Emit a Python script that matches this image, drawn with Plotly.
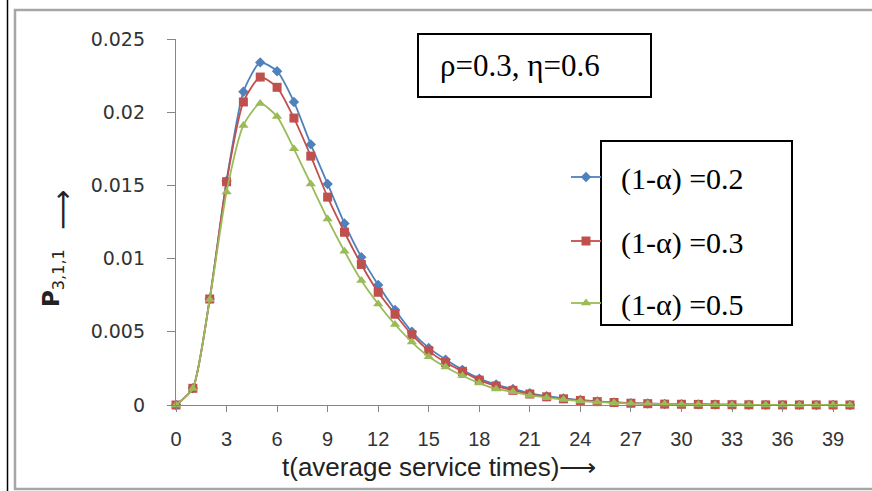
import plotly.graph_objects as go

# ---- data ----
t = list(range(0, 41))
x_ticks = list(range(0, 40, 3))
y_ticks = [0, 0.005, 0.01, 0.015, 0.02, 0.025]
y_tick_text = ["0", "0.005", "0.01", "0.015", "0.02", "0.025"]

p_02 = [0, 0.00114, 0.00724, 0.0153, 0.0214, 0.0234, 0.0228, 0.0207, 0.0178, 0.0151,
        0.0124, 0.0101, 0.0082, 0.0065, 0.0050, 0.0039, 0.0031, 0.0024, 0.0018, 0.0014,
        0.0011, 0.0008, 0.0006, 0.00045, 0.00034, 0.00025, 0.00018, 0.00013, 0.0001, 0.00007,
        0.00005, 0.00004, 0.00003, 0.00002, 0.000015, 0.00001, 0.000008, 0.000006, 0.000004,
        0.000003, 0.000002]
p_03 = [0, 0.00114, 0.00724, 0.01525, 0.0207, 0.0224, 0.0217, 0.0196, 0.0170, 0.0142,
        0.0118, 0.0096, 0.0077, 0.0062, 0.0048, 0.0037, 0.0029, 0.0023, 0.0017, 0.0013,
        0.0010, 0.00075, 0.00056, 0.00042, 0.00031, 0.00023, 0.00017, 0.00012, 0.00009, 0.00006,
        0.00005, 0.00004, 0.00003, 0.00002, 0.000014, 0.00001, 0.000007, 0.000005, 0.000004,
        0.000003, 0.000002]
p_05 = [0, 0.00112, 0.0072, 0.01455, 0.0191, 0.0206, 0.0197, 0.0175, 0.0151, 0.0127,
        0.0105, 0.0085, 0.0069, 0.0055, 0.0043, 0.0033, 0.0026, 0.0020, 0.0015, 0.0011,
        0.0009, 0.00065, 0.0005, 0.00037, 0.00027, 0.0002, 0.00015, 0.0001, 0.00008, 0.00006,
        0.00004, 0.00003, 0.00002, 0.000015, 0.00001, 0.000008, 0.000006, 0.000004, 0.000003,
        0.000002, 0.000001]

series_names = ["(1-α) =0.2", "(1-α) =0.3", "(1-α) =0.5"]
series_vals = [p_02, p_03, p_05]

# ---- style ----
W, H = 872, 491
ML, MR, MT, MB = 176, 17, 39, 86
PW, PH = W - ML - MR, H - MT - MB

def px(x):
    return (x - ML) / PW

def py(y):
    return (H - MB - y) / PH

colors = ["#4F81BD", "#C0504D", "#9BBB59"]
symbols = ["diamond", "square", "triangle-up"]
msizes = [8, 9, 9]
legend_ids = ["legend", "legend2", "legend3"]
legend_y_px = [177, 241, 303]

fig = go.Figure()
for name, vals, c, s, ms, lg in zip(series_names, series_vals, colors, symbols, msizes, legend_ids):
    fig.add_trace(go.Scatter(
        x=t, y=vals, name="\u00a0\u00a0" + name, mode="lines+markers",
        line=dict(color=c, width=1.8, shape="spline", smoothing=0.6),
        marker=dict(symbol=s, size=ms, color=c),
        cliponaxis=False, legend=lg,
    ))

axis_grey = "#868686"
fig.update_xaxes(
    range=[0, 40.3], tickvals=x_ticks, ticktext=[str(v) for v in x_ticks],
    showgrid=False, zeroline=False, showline=True, linecolor=axis_grey, linewidth=1.3,
    ticks="outside", ticklen=6, tickcolor=axis_grey, tickwidth=1.3,
    tickfont=dict(family="Liberation Sans, sans-serif", size=20, color="#333"),
    ticklabelstandoff=10,
)
fig.update_yaxes(
    range=[0, 0.025], tickvals=y_ticks, ticktext=y_tick_text,
    showgrid=False, zeroline=False, showline=True, linecolor=axis_grey, linewidth=1.3,
    ticks="outside", ticklen=8, tickcolor=axis_grey, tickwidth=1.3,
    tickfont=dict(family="DejaVu Sans, sans-serif", size=19, color="#333"),
    ticklabelstandoff=18,
)

serif = "Liberation Serif, Times New Roman, serif"
shapes = [
    # outer chart frame
    dict(type="rect", xref="paper", yref="paper", x0=px(15), x1=px(890), y0=py(10), y1=py(489),
         line=dict(color="#A6A6A6", width=2.5), fillcolor="rgba(0,0,0,0)", layer="below"),
    # black line at far left
    dict(type="line", xref="paper", yref="paper", x0=px(7.5), x1=px(7.5), y0=py(0), y1=py(491),
         line=dict(color="black", width=1.5)),
    # parameter box
    dict(type="rect", xref="paper", yref="paper", x0=px(418), x1=px(651), y0=py(34), y1=py(97),
         line=dict(color="black", width=2), fillcolor="white", layer="above"),
    # legend box
    dict(type="rect", xref="paper", yref="paper", x0=px(601), x1=px(792), y0=py(141), y1=py(325),
         line=dict(color="black", width=2), fillcolor="white", layer="above"),
]

annotations = [
    dict(text="ρ=0.3, η=0.6", xref="paper", yref="paper", x=px(438), y=py(66),
         xanchor="left", yanchor="middle", showarrow=False,
         font=dict(family=serif, size=31, color="black")),
    dict(text="t(average service times)\u27f6", xref="paper", yref="paper", x=px(439), y=py(467),
         xanchor="center", yanchor="middle", showarrow=False,
         font=dict(family="Liberation Sans, sans-serif", size=26, color="#222")),
    dict(text="<b>P</b><sub>3,1,1</sub>", xref="paper", yref="paper", x=px(53), y=py(278),
         xanchor="center", yanchor="middle", showarrow=False, textangle=-90,
         font=dict(family="DejaVu Sans, sans-serif", size=23, color="#222")),
    dict(text="\u27f6", xref="paper", yref="paper", x=px(62), y=py(210),
         xanchor="center", yanchor="middle", showarrow=False, textangle=-90,
         font=dict(family="DejaVu Sans, sans-serif", size=28, color="#222")),
]

layout_legends = {}
for lg, ypx in zip(legend_ids, legend_y_px):
    layout_legends[lg] = dict(
        x=px(566), y=py(ypx), xanchor="left", yanchor="middle",
        bgcolor="rgba(0,0,0,0)", borderwidth=0,
        font=dict(family=serif, size=30, color="black"),
        itemwidth=30,
    )

fig.update_layout(
    width=W, height=H, margin=dict(l=ML, r=MR, t=MT, b=MB),
    paper_bgcolor="white", plot_bgcolor="white",
    showlegend=True, shapes=shapes, annotations=annotations,
    **layout_legends,
)

fig.write_html("out.html")
